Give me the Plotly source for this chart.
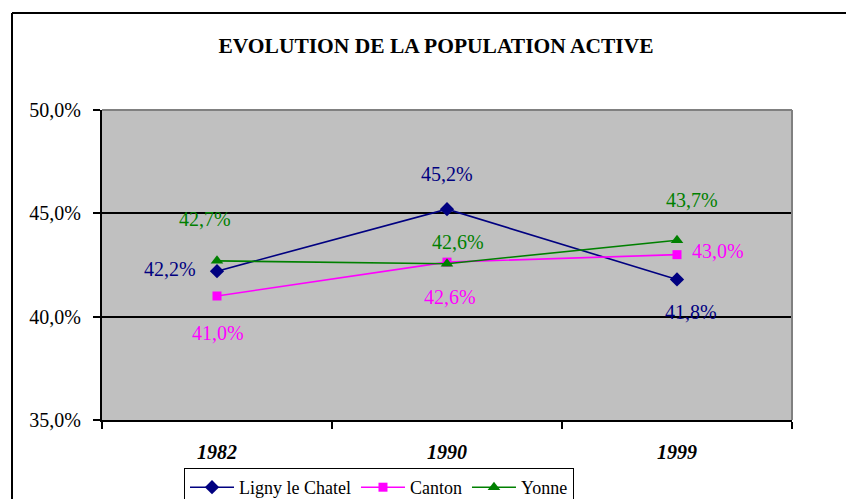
import plotly.graph_objects as go

years = ["1982", "1990", "1999"]
ligny = [0.422, 0.452, 0.418]
canton = [0.410, 0.4264, 0.430]
yonne = [0.427, 0.4256, 0.437]
series_names = ["Ligny le Chatel", "Canton", "Yonne"]
y_ticks = [0.35, 0.40, 0.45, 0.50]

colors = ["#000080", "#FF00FF", "#008000"]
symbols = ["diamond", "square", "triangle-up"]
sizes = [11, 9, 11]
# label offsets (px) per series/point
offsets = [
    [(-47, 2), (0, 35), (14, -33)],
    [(1, -37), (3, -35), (41, 4)],
    [(-12, 42), (11, 22), (15, 40)],
]

font = "Liberation Serif"
W, H = 846, 499
fig = go.Figure()
annotations = []
for name, vals, c, s, sz, offs in zip(series_names, [ligny, canton, yonne], colors, symbols, sizes, offsets):
    fig.add_trace(go.Scatter(
        x=years, y=vals, name=name, mode="lines+markers",
        line=dict(color=c, width=1.6),
        marker=dict(symbol=s, size=sz, color=c),
    ))
    for i, (yv, (dx, dy)) in enumerate(zip(vals, offs)):
        annotations.append(dict(
            x=i, y=yv, xref="x", yref="y", showarrow=False,
            text=f"{yv*100:.1f}%".replace(".", ","),
            xshift=dx, yshift=dy, xanchor="center", yanchor="middle",
            font=dict(family=font, size=20, color=c),
        ))

P_L, P_R, P_T, P_B = 102, 792, 110, 420
def px(xp):
    return (xp - P_L) / (P_R - P_L)
def py(yp):
    return (P_B - yp) / (P_B - P_T)

shapes = [
    dict(type="line", xref="paper", yref="paper", x0=px(12), x1=px(860), y0=py(13), y1=py(13),
         line=dict(color="black", width=2)),
    dict(type="line", xref="paper", yref="paper", x0=px(12), x1=px(12), y0=py(13), y1=py(510),
         line=dict(color="black", width=2)),
    dict(type="line", xref="paper", yref="paper", x0=0, x1=1, y0=1, y1=1,
         line=dict(color="#808080", width=2), layer="above"),
    dict(type="line", xref="paper", yref="paper", x0=1, x1=1, y0=0, y1=1,
         line=dict(color="#808080", width=2), layer="above"),
]

fig.update_layout(
    width=W, height=H,
    margin=dict(l=P_L, r=W - P_R, t=P_T, b=H - P_B, autoexpand=False),
    paper_bgcolor="white", plot_bgcolor="#C0C0C0",
    separators=", ",
    font=dict(family=font, color="black"),
    title=dict(text="<b>EVOLUTION DE LA POPULATION ACTIVE</b>", xref="container",
               x=436 / W, xanchor="center",
               y=1 - 45 / H, yanchor="middle",
               font=dict(family=font, size=21.5, color="black")),
    xaxis=dict(type="category", range=[-0.5, 2.5], tickson="boundaries", ticks="outside",
               ticklen=7, tickwidth=1.5, tickangle=0,
               tickcolor="black", showline=True, linecolor="black", linewidth=2,
               showgrid=False, ticklabelstandoff=13,
               tickfont=dict(family=font, size=20, weight="bold", style="italic", color="black")),
    yaxis=dict(range=[0.35, 0.50], tickvals=y_ticks, tickformat=".1%", ticks="outside",
               ticklen=7, tickwidth=1.5, tickcolor="black", showline=True, linecolor="black",
               linewidth=2, showgrid=True, gridcolor="black", gridwidth=1.5, zeroline=False,
               ticklabelstandoff=8,
               tickfont=dict(family=font, size=20, color="black")),
    legend=dict(orientation="h", x=px(184), y=py(468), xanchor="left", yanchor="top",
                bordercolor="black", borderwidth=1, bgcolor="white",
                font=dict(family=font, size=18, color="black"), itemwidth=44),
    annotations=annotations, shapes=shapes, showlegend=True,
)

fig.write_html("out.html", config={"displayModeBar": False},
               post_script="document.body.style.margin='0';document.body.style.overflow='hidden';")
